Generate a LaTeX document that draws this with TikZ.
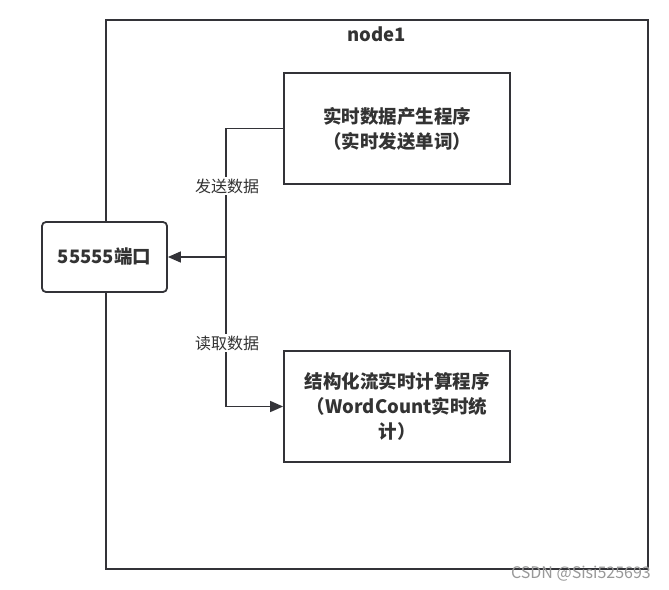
\documentclass[tikz,border=0pt]{standalone}
\usepackage{fontspec}
\setmainfont{Noto Sans CJK SC}
\usetikzlibrary{shapes,arrows,arrows.meta,positioning}
\definecolor{line}{rgb}{.2,.2,.22}
\definecolor{ink}{rgb}{.2,.2,.2}
\def\BoxFont{\fontsize{18.5}{25}\selectfont\bfseries}

\begin{document}
\begin{tikzpicture}[x=1pt,y=-1pt,% styles applied to all
      every node/.style={
        align=center,     % so that "\\" for line break works
        text=ink
      },
      box/.style={rectangle,draw=line,line width=1.8pt,fill=white,
        inner sep=0pt},
      lab/.style={fill=white,inner sep=2pt,font=\fontsize{16}{18}\selectfont},
      every edge/.style={draw=line,line width=1.6pt,
        -{Triangle[length=13pt,width=11pt]}}
    ]
    \useasboundingbox (0,0) rectangle (669,589);
    \fill[white] (0,0) rectangle (669,589);
    \node[box,minimum width=542pt,minimum height=549pt](N1) at (377,294.5){};
    \node[font=\BoxFont](T1) at (377,34){node1};
    \node[box,rounded corners=4pt,minimum width=125pt,minimum height=70pt,
      font=\BoxFont](P1) at (104.5,257){55555端口};
    \node[box,minimum width=226pt,minimum height=111pt,
      font=\BoxFont](S1) at (397,128.5){实时数据产生程序 \\ （实时发送单词）};
    \node[box,minimum width=226pt,minimum height=111pt,
      font=\BoxFont](S2) at (397,406.5){结构化流实时计算程序 \\
      （WordCount实时统 \\ 计）};
    \coordinate (J1) at (226,128.5);
    \coordinate (J2) at (226,257);
    \coordinate (J3) at (226,406.5);
    \draw[line,line width=1.6pt] (S1.west) -- (J1) -- (J3);
    \path
    (J2)edge [] node [] {} (P1)
    (J3)edge [] node [] {} (S2)
    ;
    \node[lab](L1) at (227,186){发送数据};
    \node[lab](L2) at (227,343){读取数据};
    \node[text=gray!80,font=\fontsize{16}{18}\selectfont](W1) at (581,574){CSDN @Sisi525693};
  \end{tikzpicture}
\end{document}
